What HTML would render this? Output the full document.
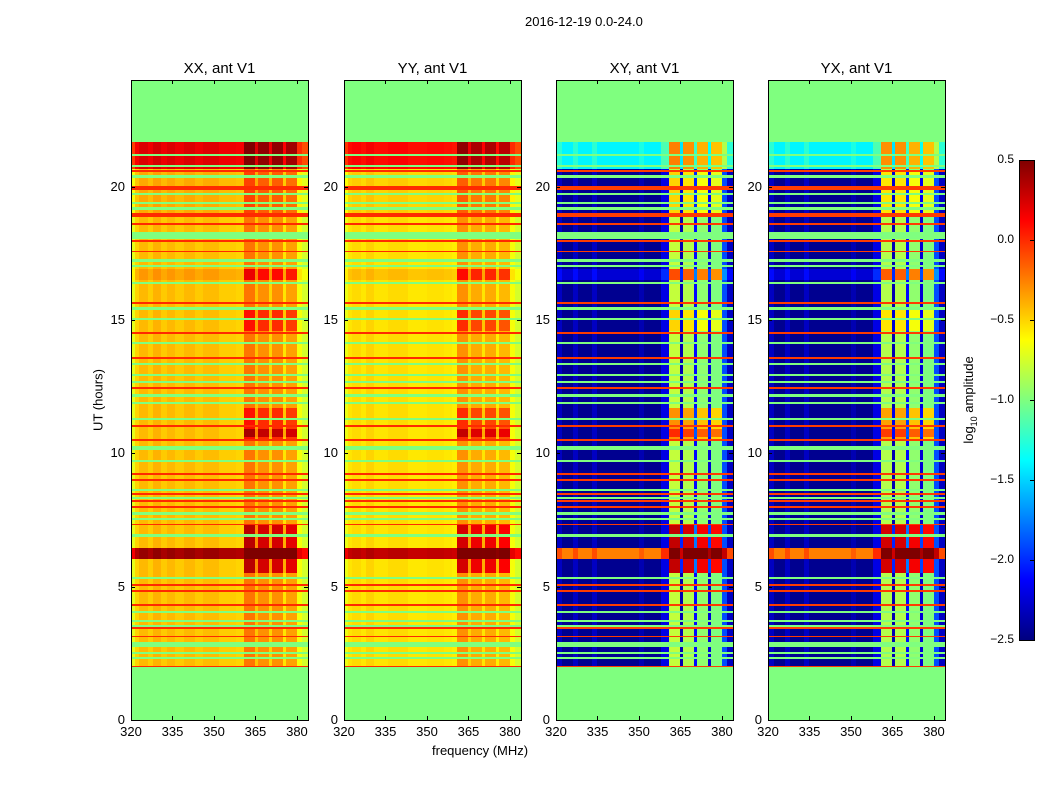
<!DOCTYPE html>
<html><head><meta charset="utf-8">
<style>
body{margin:0;background:#fff;width:1050px;height:800px;overflow:hidden;position:relative;font-family:"Liberation Sans",sans-serif;color:#000}
.abs{position:absolute}
canvas{position:absolute;image-rendering:pixelated}
.frame{position:absolute;border:1px solid #000;box-sizing:border-box;pointer-events:none}
.t{position:absolute;font-size:13px;white-space:nowrap}
.title{position:absolute;font-size:15px;white-space:nowrap;transform:translateX(-50%)}
.tick{position:absolute;background:#000}
</style></head>
<body>
<div class="t" style="left:525px;top:14px">2016-12-19 0.0-24.0</div>
<div class="t" style="left:98px;top:400px;transform:translate(-50%,-50%) rotate(-90deg)">UT (hours)</div>
<div class="t" style="left:432px;top:743px">frequency (MHz)</div>
<div id="root"></div>
<canvas id="cb" width="15" height="480" style="left:1019px;top:160px;width:15px;height:480px"></canvas>
<div class="frame" style="left:1019px;top:160px;width:16px;height:481px"></div>
<div class="t" style="left:970px;top:400px;transform:translate(-50%,-50%) rotate(-90deg)">log<sub style="font-size:9px">10</sub> amplitude</div>
<script>
// ---- data ----
const panelTitles=["XX, ant V1","YY, ant V1","XY, ant V1","YX, ant V1"];
const xTicks=[320,335,350,365,380];
const yTicks=[0,5,10,15,20];
const cbTicks=[0.5,0.0,-0.5,-1.0,-1.5,-2.0,-2.5];
const validRange=[2.0,21.68];
const flagRows=[[21.14,21.22],[20.74,20.82],[20.34,20.42],[19.67,19.75],[19.34,19.42],[19.14,19.22],[18.04,18.31],[17.19,17.27],[16.99,17.07],[16.35,16.43],[15.39,15.47],[14.99,15.07],[14.11,14.19],[13.31,13.39],[12.91,12.99],[12.64,12.72],[12.11,12.21],[11.84,11.92],[11.24,11.32],[10.14,10.27],[9.66,9.74],[8.58,8.66],[8.29,8.37],[7.69,7.8],[7.49,7.57],[6.88,6.96],[5.28,5.36],[4.01,4.09],[3.67,3.75],[3.47,3.55],[2.73,2.91],[2.46,2.54],[2.29,2.37]];
const lineRows=[20.58,19.98,19.9,18.97,18.9,18.61,17.97,17.57,15.63,14.51,13.58,12.45,11.01,10.5,9.24,9.0,8.49,8.2,7.99,7.33,5.05,4.85,4.31,3.44,3.13,2.0];
const profXX=[[320,-0.7],[321.5,-0.5],[323,-0.42],[326,-0.48],[328,-0.4],[331,-0.47],[333,-0.42],[336,-0.47],[339,-0.42],[343,-0.47],[346,-0.43],[352,-0.48],[358,-0.5],[361,-0.22],[365,-0.45],[366,-0.3],[370,-0.5],[371,-0.3],[375,-0.55],[376,-0.35],[380,-0.65],[382,-0.75]];
const profYY=[[320,-0.68],[321.5,-0.55],[323,-0.52],[326,-0.56],[328,-0.5],[331,-0.55],[336,-0.52],[343,-0.56],[350,-0.54],[356,-0.56],[359,-0.58],[361,-0.3],[365,-0.5],[366,-0.38],[370,-0.55],[371,-0.38],[375,-0.58],[376,-0.42],[380,-0.65],[382,-0.75]];
const profXY=[[320,-2.3],[322,-2.45],[326,-2.3],[328,-2.45],[333,-2.3],[335,-2.45],[350,-2.35],[352,-2.45],[358,-2.2],[361,-0.8],[365,-2.35],[366,-0.85],[370,-2.1],[371,-0.95],[375,-2.25],[376,-1.0],[380,-1.9],[382,-2.3]];
const profYX=[[320,-2.3],[322,-2.45],[326,-2.3],[328,-2.45],[333,-2.3],[335,-2.45],[350,-2.35],[352,-2.45],[358,-2.2],[361,-0.85],[365,-2.35],[366,-0.85],[370,-2.1],[371,-0.95],[375,-2.25],[376,-1.0],[380,-1.9],[382,-2.3]];
const bandMask=[[320,0],[361,1],[365,0.3],[366,1],[370,0.3],[371,1],[375,0.3],[376,1],[380,0]];
const boostCo=[[20.66,21.66,0.65,0.1],[19.0,20.6,0.05,0.1],[16.5,16.9,0.1,0.3],[14.6,15.4,0,0.3],[10.5,11.7,0,0.3],[10.6,10.9,0,0.3],[5.5,7.3,0,0.55],[6.05,6.45,0.85,0.1]];
const boostCross=[[20.66,21.66,1.05,-0.5],[19.0,20.6,0,0.3],[16.5,16.9,0.2,0.5],[14.6,15.4,0,0.3],[10.5,11.7,0,0.5],[10.6,10.9,0,0.3],[5.5,7.3,0,1.1],[6.05,6.45,2.2,0.3]];
const lineValue=[0.0,0.0,-0.05,-0.05];
const profiles=[profXX,profYY,profXY,profYX];
const boosts=[boostCo,boostCo,boostCross,boostCross];
// ---- layout ----
const panelLeft=[131,344,556,768];
const PW=177,PT=80,PH=640;
const fMin=320,fMax=384,hMin=0,hMax=24;
function xScale(f){return (f-fMin)/(fMax-fMin)*PW;}
function xInv(px){return fMin+px/PW*(fMax-fMin);}
function yScale(h){return PH-(h-hMin)/(hMax-hMin)*PH;}
function yInv(py){return hMin+(PH-py)/PH*(hMax-hMin);}
function seg(list,f){let v=list[0][1];for(const s of list){if(f>=s[0])v=s[1];}return v;}
function jet(v){let x=(v+2.5)/3;x=Math.max(0,Math.min(1,x));
 const c=t=>Math.max(0,Math.min(1,t));
 let r=c(1.5-Math.abs(4*x-3)),g=c(1.5-Math.abs(4*x-2)),b=c(1.5-Math.abs(4*x-1));
 return [r*255|0,g*255|0,b*255|0];}
function value(p,h,f){
 if(h<validRange[0]||h>validRange[1])return -1.0;
 for(const r of flagRows){if(h>=r[0]&&h<=r[1])return -1.0;}
 for(const l of lineRows){if(Math.abs(h-l)<0.035)return lineValue[p];}
 let v=seg(profiles[p],f);const m=seg(bandMask,f);
 for(const b of boosts[p]){if(h>=b[0]&&h<b[1])v+=b[2]+b[3]*m;}
 return v;}
const root=document.getElementById('root');
panelTitles.forEach((title,p)=>{
 const L=panelLeft[p];
 const cv=document.createElement('canvas');
 
 
 cv.width=PW;cv.height=PH;cv.style.left=L+'px';cv.style.top=PT+'px';
 const ctx=cv.getContext('2d');const img=ctx.createImageData(PW,PH);
 for(let y=0;y<PH;y++){const h=yInv(y+0.5);
  for(let x=0;x<PW;x++){const f=xInv(x+0.5);const c=jet(value(p,h,f));const i=(y*PW+x)*4;
   img.data[i]=c[0];img.data[i+1]=c[1];img.data[i+2]=c[2];img.data[i+3]=255;}}
 ctx.putImageData(img,0,0);root.appendChild(cv);
 const fr=document.createElement('div');fr.className='frame';
 
 
 fr.style.cssText=`left:${L}px;top:${PT}px;width:${PW+1}px;height:${PH+1}px`;root.appendChild(fr);
 const tt=document.createElement('div');tt.className='title';tt.textContent=title;
 
 
 tt.style.left=(L+PW/2)+'px';tt.style.top='60px';root.appendChild(tt);
 xTicks.forEach(v=>{const x=L+xScale(v);
  const tk=document.createElement('div');tk.className='tick';
  
  
  tk.style.cssText=`left:${x}px;top:${PT+PH-4}px;width:1px;height:4px`;root.appendChild(tk);
  const tk2=document.createElement('div');tk2.className='tick';
  
  
  tk2.style.cssText=`left:${x}px;top:${PT}px;width:1px;height:4px`;root.appendChild(tk2);
  const lb=document.createElement('div');lb.className='t';lb.textContent=v;
  
  
  lb.style.cssText=`left:${x}px;top:${PT+PH+4}px;transform:translateX(-50%)`;root.appendChild(lb);});
 yTicks.forEach(v=>{const y=PT+yScale(v);
  const tk=document.createElement('div');tk.className='tick';
  
  
  tk.style.cssText=`left:${L}px;top:${y}px;width:4px;height:1px`;root.appendChild(tk);
  const tk2=document.createElement('div');tk2.className='tick';
  
  
  tk2.style.cssText=`left:${L+PW-4}px;top:${y}px;width:4px;height:1px`;root.appendChild(tk2);
  const lb=document.createElement('div');lb.className='t';lb.textContent=v;
  
  
  lb.style.cssText=`right:${1050-L+6}px;top:${y-8}px`;root.appendChild(lb);});
});
// colorbar
const cb=document.getElementById('cb').getContext('2d');
for(let y=0;y<480;y++){const v=0.5-(y+0.5)/480*3;const c=jet(v);cb.fillStyle=`rgb(${c[0]},${c[1]},${c[2]})`;cb.fillRect(0,y,15,1);}
cbTicks.forEach(v=>{const y=160+(0.5-v)/3*480;
 const lb=document.createElement('div');lb.className='t';
 lb.textContent=(v<0?'\u2212':'')+Math.abs(v).toFixed(1);
 
 
 lb.style.cssText=`right:${1050-1014}px;top:${y-8}px;font-size:12px`;document.body.appendChild(lb);
 const tk=document.createElement('div');tk.className='tick';
 
 
 tk.style.cssText=`left:1030px;top:${y}px;width:4px;height:1px`;document.body.appendChild(tk);});
</script>
</body></html>
